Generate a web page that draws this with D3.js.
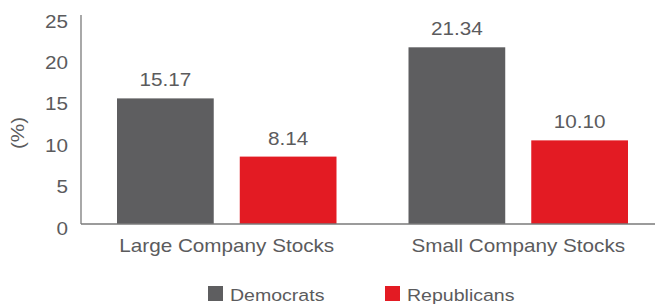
<!DOCTYPE html>
<html>
<head>
<meta charset="utf-8">
<script src="https://cdn.jsdelivr.net/npm/d3@7"></script>
<style>
  body { margin: 0; background: #fff; }
  text { font-family: "Liberation Sans", Arial, Helvetica, sans-serif; fill: #5b5b5d; }
</style>
</head>
<body>
<div id="chart"></div>
<script>
var svgWidth = 655;
var svgHeight = 305;

// chart data
var categories = ["Large Company Stocks", "Small Company Stocks"];
var seriesNames = ["Democrats", "Republicans"];
var democrats = [15.17, 21.34];
var republicans = [8.14, 10.10];
var yTicks = [0, 5, 10, 15, 20, 25];

var colors = { Democrats: "#5e5e60", Republicans: "#e31b23" };
var stretch = 1.15; // text in the reference is a bit wide

var margin = { top: 17, right: -9, bottom: 81, left: 81 };
var width = svgWidth - margin.left - margin.right;
var height = svgHeight - margin.top - margin.bottom;

var svg = d3.select("#chart")
  .append("svg")
  .attr("width", svgWidth)
  .attr("height", svgHeight);

var chartGroup = svg.append("g")
  .attr("transform", `translate(${margin.left}, ${margin.top})`);

// build rows from the arrays
var rows = categories.map(function(c, i) {
  return { category: c, values: [
    { name: "Democrats", value: democrats[i] },
    { name: "Republicans", value: republicans[i] }
  ] };
});

var x0 = d3.scaleBand()
  .domain(categories)
  .range([0, width])
  .padding(0);

var x1 = d3.scaleBand()
  .domain(seriesNames)
  .range([36, x0.bandwidth() - 36])
  .paddingInner(0.212);

var yScale = d3.scaleLinear()
  .domain([0, 25])
  .range([height, 0]);

// helper for stretched text
function stretchedText(sel, x, y, size, anchor, str) {
  return sel.append("text")
    .attr("transform", `translate(${x}, ${y}) scale(${stretch}, 1)`)
    .attr("text-anchor", anchor)
    .style("font-size", size + "px")
    .text(str);
}

// bars
var groups = chartGroup.selectAll(".cat")
  .data(rows)
  .enter()
  .append("g")
  .attr("class", "cat")
  .attr("transform", d => `translate(${x0(d.category)}, 0)`);

groups.selectAll("rect")
  .data(d => d.values)
  .enter()
  .append("rect")
  .attr("x", d => x1(d.name))
  .attr("y", d => yScale(d.value))
  .attr("width", x1.bandwidth())
  .attr("height", d => height - yScale(d.value))
  .attr("fill", d => colors[d.name]);

// value labels
groups.each(function(d) {
  var g = d3.select(this);
  d.values.forEach(function(v) {
    stretchedText(g, x1(v.name) + x1.bandwidth() / 2, yScale(v.value) - 12, 18, "middle", v.value.toFixed(2));
  });
});

// y axis
var leftAxis = d3.axisLeft(yScale).tickValues(yTicks).tickSize(0).tickFormat("");
var yAxis = chartGroup.append("g").call(leftAxis);
yAxis.select(".domain").attr("stroke", "#7a7a7a").attr("stroke-width", 1.3)
  .attr("d", `M0,-2V${height}`);

yTicks.forEach(function(t) {
  stretchedText(chartGroup, -13, yScale(t) + 10.5, 18, "end", t);
});

// x axis
var bottomAxis = d3.axisBottom(x0).tickSize(0).tickFormat("");
var xAxis = chartGroup.append("g")
  .attr("transform", `translate(0, ${height})`)
  .call(bottomAxis);
xAxis.select(".domain").attr("stroke", "#7a7a7a").attr("stroke-width", 1.3)
  .attr("d", `M0,0H${svgWidth - margin.left}`);

categories.forEach(function(c) {
  stretchedText(chartGroup, x0(c) + x0.bandwidth() / 2, height + 27.5, 18, "middle", c);
});

// y axis title
svg.append("text")
  .attr("transform", `translate(24, 133) rotate(-90) scale(${stretch}, 1)`)
  .attr("text-anchor", "middle")
  .style("font-size", "18px")
  .text("(%)");

// legend
var legendPos = [208, 385];
seriesNames.forEach(function(name, i) {
  svg.append("rect")
    .attr("x", legendPos[i])
    .attr("y", 286)
    .attr("width", 15)
    .attr("height", 15)
    .attr("fill", colors[name]);
  stretchedText(svg, legendPos[i] + 22, 300.5, 17, "start", name);
});
</script>
</body>
</html>
